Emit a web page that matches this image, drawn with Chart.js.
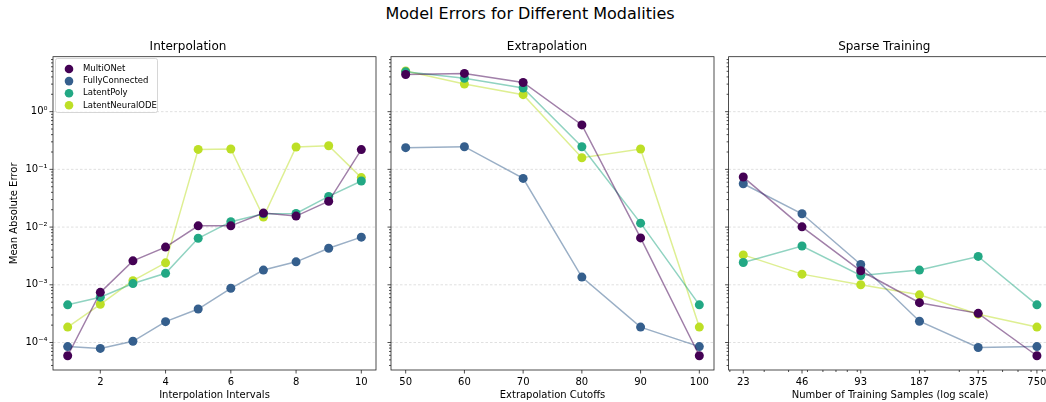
<!DOCTYPE html>
<html>
<head>
<meta charset="utf-8">
<script src="https://cdn.jsdelivr.net/npm/chart.js@4/dist/chart.umd.min.js"></script>
<style>
  body { margin: 0; width: 1046px; height: 402px; overflow: hidden; background: #fff; position: relative; font-family: "DejaVu Sans", sans-serif; }
  #title { position: absolute; top: 4px; left: 0; width: 1060px; text-align: center; font-size: 16px; color: #000; }
  .panel { position: absolute; top: 0; height: 402px; }
</style>
</head>
<body>
<div id="title">Model Errors for Different Modalities</div>
<div class="panel" style="left:0;width:385px"><canvas id="interpChart"></canvas></div>
<div class="panel" style="left:380px;width:345px"><canvas id="extrapChart"></canvas></div>
<div class="panel" style="left:717px;width:345px"><canvas id="sparseChart"></canvas></div>
<script>
// Modèles et couleurs (viridis)
const models = ['MultiONet', 'FullyConnected', 'LatentPoly', 'LatentNeuralODE'];
const colors = ['#440154', '#355f8d', '#22a884', '#bddf26'];

// Interpolation
const interpIntervals = [1, 2, 3, 4, 5, 6, 7, 8, 9, 10];
const interpMultiONet = [5.9e-5, 7.4e-4, 2.6e-3, 4.5e-3, 1.05e-2, 1.05e-2, 1.75e-2, 1.55e-2, 2.8e-2, 0.22];
const interpFullyConnected = [8.5e-5, 7.9e-5, 1.05e-4, 2.3e-4, 3.8e-4, 8.7e-4, 1.8e-3, 2.5e-3, 4.3e-3, 6.7e-3];
const interpLatentPoly = [4.5e-4, 6.1e-4, 1.05e-3, 1.58e-3, 6.4e-3, 1.24e-2, 1.7e-2, 1.72e-2, 3.4e-2, 6.3e-2];
const interpLatentNeuralODE = [1.85e-4, 4.6e-4, 1.18e-3, 2.4e-3, 0.222, 0.225, 1.49e-2, 0.244, 0.257, 7.2e-2];

// Extrapolation
const extrapCutoffs = [50, 60, 70, 80, 90, 100];
const extrapMultiONet = [4.4, 4.6, 3.2, 0.59, 6.5e-3, 5.9e-5];
const extrapFullyConnected = [0.238, 0.247, 0.0698, 1.36e-3, 1.85e-4, 8.5e-5];
const extrapLatentPoly = [4.9, 3.8, 2.57, 0.247, 1.17e-2, 4.5e-4];
const extrapLatentNeuralODE = [5.07, 3.02, 1.97, 0.159, 0.225, 1.85e-4];

// Sparse training
const sparseSamples = [23.4375, 46.875, 93.75, 187.5, 375, 750];
const sparseMultiONet = [0.0736, 0.0101, 1.75e-3, 4.9e-4, 3.2e-4, 5.9e-5];
const sparseFullyConnected = [0.0564, 0.017, 2.25e-3, 2.34e-4, 8.2e-5, 8.5e-5];
const sparseLatentPoly = [2.44e-3, 4.7e-3, 1.45e-3, 1.8e-3, 3.1e-3, 4.5e-4];
const sparseLatentNeuralODE = [3.3e-3, 1.53e-3, 1.0e-3, 6.7e-4, 3.1e-4, 1.85e-4];

// Graduations
const yTicks = [1e-4, 1e-3, 1e-2, 1e-1, 1];
const yTickLabels = ['10⁻⁴', '10⁻³', '10⁻²', '10⁻¹', '10⁰'];
const interpTicks = [2, 4, 6, 8, 10];
const extrapTicks = [50, 60, 70, 80, 90, 100];
const sparseTickLabels = ['23', '46', '93', '187', '375', '750'];

const FONT = '"DejaVu Sans", sans-serif';
Chart.defaults.font.family = FONT;
Chart.defaults.color = '#000';

// Cadre, grille pointillée et petites graduations façon matplotlib
const framePlugin = {
    id: 'frame',
    beforeDatasetsDraw(chart) {
        const { ctx, chartArea: a, scales: { y } } = chart;
        ctx.save();
        ctx.strokeStyle = '#d2d2d2';
        ctx.lineWidth = 0.7;
        ctx.setLineDash([2.5, 2]);
        yTicks.forEach(v => {
            const py = y.getPixelForValue(v);
            ctx.beginPath();
            ctx.moveTo(a.left, py);
            ctx.lineTo(a.right, py);
            ctx.stroke();
        });
        ctx.restore();
    },
    afterDraw(chart) {
        const { ctx, chartArea: a, scales: { x, y } } = chart;
        ctx.save();
        ctx.strokeStyle = '#222';
        ctx.lineWidth = 0.8;
        ctx.strokeRect(a.left, a.top, a.right - a.left, a.bottom - a.top);
        const tick = (x1, y1, x2, y2) => {
            ctx.beginPath(); ctx.moveTo(x1, y1); ctx.lineTo(x2, y2); ctx.stroke();
        };
        // y
        y.ticks.forEach(t => {
            const py = y.getPixelForValue(t.value);
            tick(a.left, py, a.left - 3.5, py);
        });
        for (let k = -5; k <= 0; k++) {
            for (let m = 2; m <= 9; m++) {
                const v = m * Math.pow(10, k);
                if (v < y.min || v > y.max) continue;
                const py = y.getPixelForValue(v);
                tick(a.left, py, a.left - 2, py);
            }
        }
        // x
        x.ticks.forEach(t => {
            const px = x.getPixelForValue(t.value);
            tick(px, a.bottom, px, a.bottom + 3.5);
        });
        if (x.type === 'logarithmic') {
            for (let k = 1; k <= 2; k++) {
                for (let m = 2; m <= 9; m++) {
                    const v = m * Math.pow(10, k);
                    if (v < x.min || v > x.max) continue;
                    const px = x.getPixelForValue(v);
                    tick(px, a.bottom, px, a.bottom + 2);
                }
            }
        }
        ctx.restore();
    }
};

// Légende encadrée dans la zone du graphique
const boxLegendPlugin = {
    id: 'boxLegend',
    afterDatasetsDraw(chart) {
        const ctx = chart.ctx;
        ctx.save();
        ctx.fillStyle = 'rgba(255,255,255,0.8)';
        ctx.strokeStyle = '#cccccc';
        ctx.lineWidth = 0.8;
        ctx.beginPath();
        ctx.roundRect(55.5, 58.5, 102, 54, 2);
        ctx.fill();
        ctx.stroke();
        ctx.font = '8.5px ' + FONT;
        ctx.textBaseline = 'middle';
        chart.data.datasets.forEach((ds, i) => {
            const cy = 69 + i * 12.1;
            ctx.fillStyle = ds.pointBackgroundColor;
            ctx.beginPath();
            ctx.arc(69, cy, 4.3, 0, Math.PI * 2);
            ctx.fill();
            ctx.fillStyle = '#000';
            ctx.fillText(ds.label, 83, cy);
        });
        ctx.restore();
    }
};

function buildDatasets(xs, series) {
    return series.map((ys, i) => ({
        label: models[i],
        data: xs.map((xv, j) => ({ x: xv, y: ys[j] })),
        borderColor: colors[i] + '80',
        backgroundColor: colors[i],
        pointBackgroundColor: colors[i],
        pointBorderWidth: 0,
        pointRadius: 4.5,
        pointHoverRadius: 4.5,
        borderWidth: 1.5,
        tension: 0
    }));
}

function makeChart(id, opts) {
    const showY = !!opts.yTitle;
    new Chart(document.getElementById(id), {
        type: 'line',
        data: { datasets: buildDatasets(opts.xs, opts.series) },
        options: {
            responsive: true,
            maintainAspectRatio: false,
            animation: false,
            layout: { padding: { left: 0, right: opts.padRight, top: 0, bottom: 0 } },
            plugins: {
                legend: { display: false },
                tooltip: { enabled: false },
                title: {
                    display: true,
                    text: opts.title,
                    color: '#000',
                    font: { size: 12, weight: 'normal' },
                    padding: { top: 39.8, bottom: 2.5 }
                }
            },
            scales: {
                x: Object.assign({
                    grid: { display: false, drawTicks: true, tickLength: 3.5 },
                    border: { display: false },
                    ticks: { color: '#000', font: { size: 10 }, padding: 3, maxRotation: 0, autoSkip: false },
                    title: { display: true, text: opts.xTitle, color: '#000', font: { size: 10 }, padding: { top: 0, bottom: 1 } },
                    afterFit: s => { s.height = 32; }
                }, opts.xScale),
                y: {
                    type: 'logarithmic',
                    min: 3.34e-5,
                    max: 8.96,
                    grid: { display: false, drawTicks: true, tickLength: 3.5 },
                    border: { display: false },
                    afterBuildTicks: s => { s.ticks = yTicks.map(v => ({ value: v })); },
                    ticks: {
                        display: showY,
                        color: '#000',
                        font: { size: 10 },
                        padding: 2,
                        callback: (v, i) => yTickLabels[i]
                    },
                    title: { display: showY, text: opts.yTitle || '', color: '#000', font: { size: 10 }, padding: { top: 8, bottom: 0 } },
                    afterFit: s => { s.width = opts.yWidth; }
                }
            }
        },
        plugins: opts.legend ? [framePlugin, boxLegendPlugin] : [framePlugin]
    });
}

makeChart('interpChart', {
    title: 'Interpolation',
    xTitle: 'Interpolation Intervals',
    yTitle: 'Mean Absolute Error',
    xs: interpIntervals,
    series: [interpMultiONet, interpFullyConnected, interpLatentPoly, interpLatentNeuralODE],
    yWidth: 53,
    padRight: 9,
    legend: true,
    xScale: {
        type: 'linear', min: 0.55, max: 10.45,
        afterBuildTicks: s => { s.ticks = interpTicks.map(v => ({ value: v })); }
    }
});

makeChart('extrapChart', {
    title: 'Extrapolation',
    xTitle: 'Extrapolation Cutoffs',
    xs: extrapCutoffs,
    series: [extrapMultiONet, extrapFullyConnected, extrapLatentPoly, extrapLatentNeuralODE],
    yWidth: 11,
    padRight: 11,
    xScale: {
        type: 'linear', min: 47.5, max: 102.5,
        afterBuildTicks: s => { s.ticks = extrapTicks.map(v => ({ value: v })); }
    }
});

makeChart('sparseChart', {
    title: 'Sparse Training',
    xTitle: 'Number of Training Samples (log scale)',
    xs: sparseSamples,
    series: [sparseMultiONet, sparseFullyConnected, sparseLatentPoly, sparseLatentNeuralODE],
    yWidth: 11.6,
    padRight: 10.4,
    xScale: {
        type: 'logarithmic', min: 19.71, max: 891.9,
        afterBuildTicks: s => { s.ticks = sparseSamples.map(v => ({ value: v })); },
        ticks: { color: '#000', font: { size: 10 }, padding: 3, maxRotation: 0, autoSkip: false, callback: (v, i) => sparseTickLabels[i] }
    }
});
</script>
</body>
</html>
